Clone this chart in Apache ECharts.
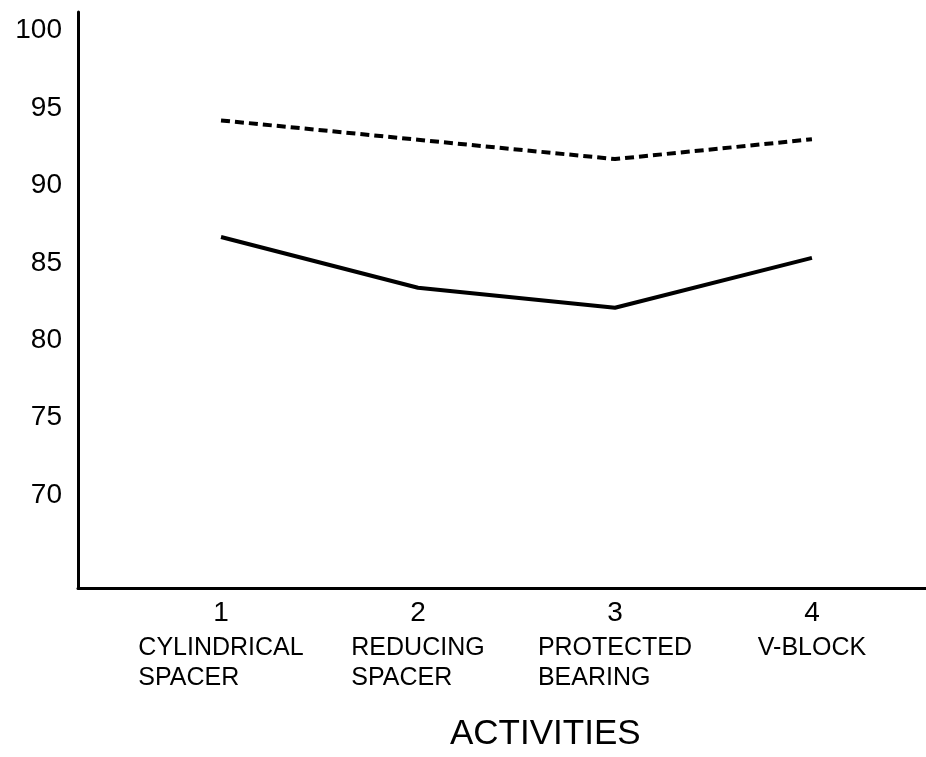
<!DOCTYPE html>
<html>
<head>
<meta charset="utf-8">
<title>Activities</title>
<script src="https://cdn.jsdelivr.net/npm/echarts@6/dist/echarts.min.js"></script>
<style>
    html, body {
        margin: 0;
        padding: 0;
        background: #fff;
    }

    #chart {
        width: 926px;
        height: 757px;
    }
</style>
</head>
<body>
<div id="chart"></div>
<script>
// activity number on the x axis and its name (two lines)
const activityNums = [1, 2, 3, 4];
const activityNames = [
    ["CYLINDRICAL", "SPACER"],
    ["REDUCING", "SPACER"],
    ["PROTECTED", "BEARING"],
    ["V-BLOCK", ""],
];

// values
const upperValues = [94.2, 92.95, 91.7, 92.98]; // dashed line
const lowerValues = [86.67, 83.39, 82.1, 85.32]; // solid line

const yTicks = [70, 75, 80, 85, 90, 95, 100];

const chart = echarts.init(document.getElementById("chart"), null, { renderer: "canvas" });

const option = {
    animation: false,
    backgroundColor: "#fff",
    title: {
        text: "ACTIVITIES",
        left: 450,
        top: 717,
        padding: 0,
        textStyle: {
            fontFamily: "Liberation Sans",
            fontWeight: "normal",
            fontSize: 35,
            color: "#000",
        },
    },
    grid: {
        left: 78,
        right: 0,
        top: 12,
        bottom: 169,
        containLabel: false,
    },
    xAxis: {
        type: "value",
        min: 0.274,
        max: 4.579,
        splitLine: { show: false },
        axisTick: { show: false },
        axisLine: {
            show: true,
            onZero: false,
            lineStyle: { color: "#000", width: 3 },
        },
        axisLabel: {
            customValues: activityNums,
            showMinLabel: true,
            showMaxLabel: true,
            margin: 6,
            verticalAlign: "top",
            formatter: (value) => {
                const idx = activityNums.indexOf(value);
                if (idx < 0) return "";
                const [l1, l2] = activityNames[idx];
                return `{n|${value}}\n{t|${l1}}\n{t|${l2}}`;
            },
            rich: {
                n: {
                    fontFamily: "Liberation Sans",
                    fontSize: 28,
                    lineHeight: 39,
                    color: "#000",
                    align: "center",
                },
                t: {
                    fontFamily: "Liberation Sans",
                    fontSize: 25,
                    lineHeight: 30,
                    color: "#000",
                    align: "left",
                },
            },
        },
    },
    yAxis: {
        type: "value",
        min: 64,
        max: 101.2,
        splitLine: { show: false },
        axisTick: { show: false },
        axisLine: {
            show: true,
            lineStyle: { color: "#000", width: 3 },
        },
        axisLabel: {
            customValues: yTicks,
            margin: 16,
            fontFamily: "Liberation Sans",
            fontSize: 28,
            color: "#000",
        },
    },
    series: [
        {
            name: "upper",
            type: "line",
            symbol: "none",
            lineStyle: {
                color: "#000",
                width: 4,
                type: [9, 5],
            },
            data: activityNums.map((x, i) => [x, upperValues[i]]),
        },
        {
            name: "lower",
            type: "line",
            symbol: "none",
            lineStyle: {
                color: "#000",
                width: 4,
            },
            data: activityNums.map((x, i) => [x, lowerValues[i]]),
        },
    ],
};

chart.setOption(option);
</script>
</body>
</html>
